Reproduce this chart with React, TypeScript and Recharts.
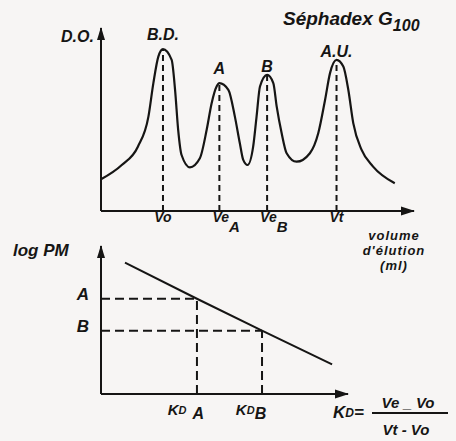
import { LineChart, Line, XAxis, YAxis, ReferenceLine, ReferenceDot } from 'recharts';

const INK = '#161514';
const PAPER = '#f7f5f4';
const HAND = '"Liberation Sans", "DejaVu Sans", sans-serif';

// Elution profile on Sephadex G-100: volume d'élution vs D.O.
const elutionVolume = [
  0, 6.7, 11.9, 15.3, 16.9, 18.5, 20, 22.8, 23.9, 24.9,
  26, 28.7, 31.9, 34.1, 35.7, 37.3, 38.2, 41.1, 43.2, 44.8,
  45.9, 47.3, 49.1, 50.2, 51.3, 53.6, 55.6, 56.7, 58.3, 59.9,
  63.1, 67.4, 70.1, 72.3, 73.9, 76, 78.2, 79.8, 81.4, 84.1,
  87.8, 94.8,
];
const opticalDensity = [
  17.5, 25.4, 35.5, 52.1, 70.6, 85.2, 89.3, 83.4, 66.9, 44.8,
  30.9, 24.1, 29.1, 44.8, 59.5, 68.7, 70.6, 66.9, 52.1, 37.4,
  28.2, 25.4, 35.5, 52.1, 68.7, 75.1, 70.6, 57.6, 42.9, 31.9,
  27.2, 31.9, 42.9, 61.3, 76.1, 83.4, 79.7, 66.9, 48.5, 33.7,
  24.5, 15.3,
];
const volumeMax = 101;
const odMax = 101;

// Peaks: Bleu Dextran, solutes A and B, acide urique
const peakNames = ['B.D.', 'A', 'B', 'A.U.'];
const peakVolume = [20, 38.2, 53.6, 76];
const peakOD = [89.3, 70.6, 75.1, 83.4];
const volumeTickMain = ['Vo', 'Ve', 'Ve', 'Vt'];
const volumeTickSub = ['', 'A', 'B', ''];

// Calibration: log PM vs KD
const kdLine = [10.1, 40.4, 67.8, 97.3];
const logPmLine = [89.6, 65, 43.2, 20.2];
const kdMax = 104;
const logPmMax = 101;
const soluteNames = ['A', 'B'];
const soluteKd = [40.4, 67.8];
const soluteLogPm = [65, 43.2];

const hand = { fill: INK, fontFamily: HAND, fontStyle: 'italic', fontWeight: 700 } as const;
const peakLabelGap = [9, 9, 3, 3];

// arrow heads drawn at the far end of each axis
const ArrowRight = ({ cx, cy }: any) => (
  <path d={`M${cx + 1},${cy} L${cx - 13},${cy - 4.5} L${cx - 13},${cy + 4.5} Z`} fill={INK} />
);
const ArrowUp = ({ cx, cy }: any) => (
  <path d={`M${cx},${cy - 1} L${cx - 4},${cy + 12} L${cx + 4},${cy + 12} Z`} fill={INK} />
);

function VolumeTick({ x, y, payload }: any) {
  const i = peakVolume.indexOf(payload.value);
  const sub = volumeTickSub[i];
  return (
    <text x={sub ? x - 7 : x} y={y + 11} textAnchor={sub ? 'start' : 'middle'} {...hand} fontSize={14}>
      {volumeTickMain[i]}
      {sub && (
        <tspan dy={10} fontSize={15}>
          {sub}
        </tspan>
      )}
    </text>
  );
}

function KdTick({ x, y, payload }: any) {
  const i = soluteKd.indexOf(payload.value);
  return (
    <text x={x - 11} y={y + 21} textAnchor="middle" {...hand} fontSize={15}>
      K
      <tspan fontSize={11} dy={-1}>D</tspan>
      <tspan fontSize={16} dx={i === 0 ? 6 : 0} dy={5}>
        {soluteNames[i]}
      </tspan>
    </text>
  );
}

function SoluteTick({ x, y, payload }: any) {
  const i = soluteLogPm.indexOf(payload.value);
  return (
    <text x={x - 12} y={y + 1} textAnchor="end" {...hand} fontSize={17}>
      {soluteNames[i]}
    </text>
  );
}

function ElutionChart() {
  const data = elutionVolume.map((v, i) => ({ volume: v, od: opticalDensity[i] }));
  return (
    <LineChart width={456} height={280} data={data} margin={{ top: 28, right: 42, bottom: 49, left: 61 }}>
      <XAxis
        dataKey="volume"
        type="number"
        domain={[0, volumeMax]}
        ticks={peakVolume}
        interval={0}
        height={20}
        tickSize={0}
        tickMargin={0}
        tickLine={false}
        tick={VolumeTick}
        axisLine={{ stroke: INK, strokeWidth: 2 }}
      />
      <YAxis
        type="number"
        domain={[0, odMax]}
        ticks={[]}
        width={40}
        tick={false}
        tickLine={false}
        axisLine={{ stroke: INK, strokeWidth: 2 }}
      />
      {peakVolume.map((v, i) => (
        <ReferenceLine
          key={`drop-${i}`}
          segment={[{ x: v, y: 0 }, { x: v, y: peakOD[i] }]}
          stroke={INK}
          strokeWidth={2}
          strokeDasharray="6 4"
        />
      ))}
      <Line
        type="monotone"
        dataKey="od"
        stroke={INK}
        strokeWidth={2.2}
        dot={false}
        isAnimationActive={false}
      />
      {peakVolume.map((v, i) => (
        <ReferenceDot
          key={`peak-${i}`}
          x={v}
          y={peakOD[i]}
          r={0}
          stroke="none"
          label={{ value: peakNames[i], position: 'top', offset: peakLabelGap[i], ...hand, fontSize: 16 }}
        />
      ))}
      <ReferenceDot x={volumeMax} y={0} ifOverflow="visible" shape={ArrowRight} />
      <ReferenceDot x={0} y={odMax} ifOverflow="visible" shape={ArrowUp} />
      <text x={61} y={42} {...hand} fontSize={16}>D.O.</text>
      <text x={283} y={25} {...hand} fontSize={19}>
        Séphadex G<tspan fontSize={16} dy={6}>100</tspan>
      </text>
      <text x={394} y={240} textAnchor="middle" {...hand} fontSize={13} letterSpacing={1}>volume</text>
      <text x={394} y={255} textAnchor="middle" {...hand} fontSize={13} letterSpacing={1}>d'élution</text>
      <text x={394} y={270} textAnchor="middle" {...hand} fontSize={13} letterSpacing={1}>(ml)</text>
    </LineChart>
  );
}

function CalibrationChart() {
  const data = kdLine.map((k, i) => ({ kd: k, logPm: logPmLine[i] }));
  const guides = soluteKd.flatMap((k, i) => [
    <ReferenceLine
      key={`h-${i}`}
      segment={[{ x: 0, y: soluteLogPm[i] }, { x: k, y: soluteLogPm[i] }]}
      stroke={INK}
      strokeWidth={2}
      strokeDasharray="9 5"
    />,
    <ReferenceLine
      key={`v-${i}`}
      segment={[{ x: k, y: 0 }, { x: k, y: soluteLogPm[i] }]}
      stroke={INK}
      strokeWidth={2}
      strokeDasharray="9 5"
    />,
  ]);
  return (
    <LineChart width={456} height={211} data={data} margin={{ top: 16, right: 108, bottom: 27, left: 61 }}>
      <XAxis
        dataKey="kd"
        type="number"
        domain={[0, kdMax]}
        ticks={soluteKd}
        interval={0}
        height={20}
        tickSize={0}
        tickMargin={0}
        tickLine={false}
        tick={KdTick}
        axisLine={{ stroke: INK, strokeWidth: 2 }}
      />
      <YAxis
        type="number"
        domain={[0, logPmMax]}
        ticks={soluteLogPm}
        interval={0}
        width={40}
        tickSize={0}
        tickMargin={0}
        tickLine={false}
        tick={SoluteTick}
        axisLine={{ stroke: INK, strokeWidth: 2 }}
      />
      {guides}
      <Line
        type="linear"
        dataKey="logPm"
        stroke={INK}
        strokeWidth={2}
        dot={false}
        isAnimationActive={false}
      />
      <ReferenceDot x={kdMax} y={0} ifOverflow="visible" shape={ArrowRight} />
      <ReferenceDot x={0} y={logPmMax} ifOverflow="visible" shape={ArrowUp} />
      <text x={13} y={26} {...hand} fontSize={17}>log PM</text>
      <text x={333} y={188} {...hand} fontSize={17}>
        K<tspan fontSize={12} dy={-1}>D</tspan>
        <tspan dy={1}>=</tspan>
      </text>
      <line x1={372} x2={448} y1={183} y2={183} stroke={INK} strokeWidth={2} />
      <text x={408} y={178} textAnchor="middle" {...hand} fontSize={15}>Ve _ Vo</text>
      <text x={406} y={205} textAnchor="middle" {...hand} fontSize={15}>Vt - Vo</text>
    </LineChart>
  );
}

export default function App() {
  return (
    <div style={{ position: 'relative', width: 456, height: 441, background: PAPER, overflow: 'hidden' }}>
      <style>{'body { margin: 0; }'}</style>
      <div style={{ position: 'absolute', left: 0, top: 0 }}>
        <ElutionChart />
      </div>
      <div style={{ position: 'absolute', left: 0, top: 230 }}>
        <CalibrationChart />
      </div>
    </div>
  );
}
